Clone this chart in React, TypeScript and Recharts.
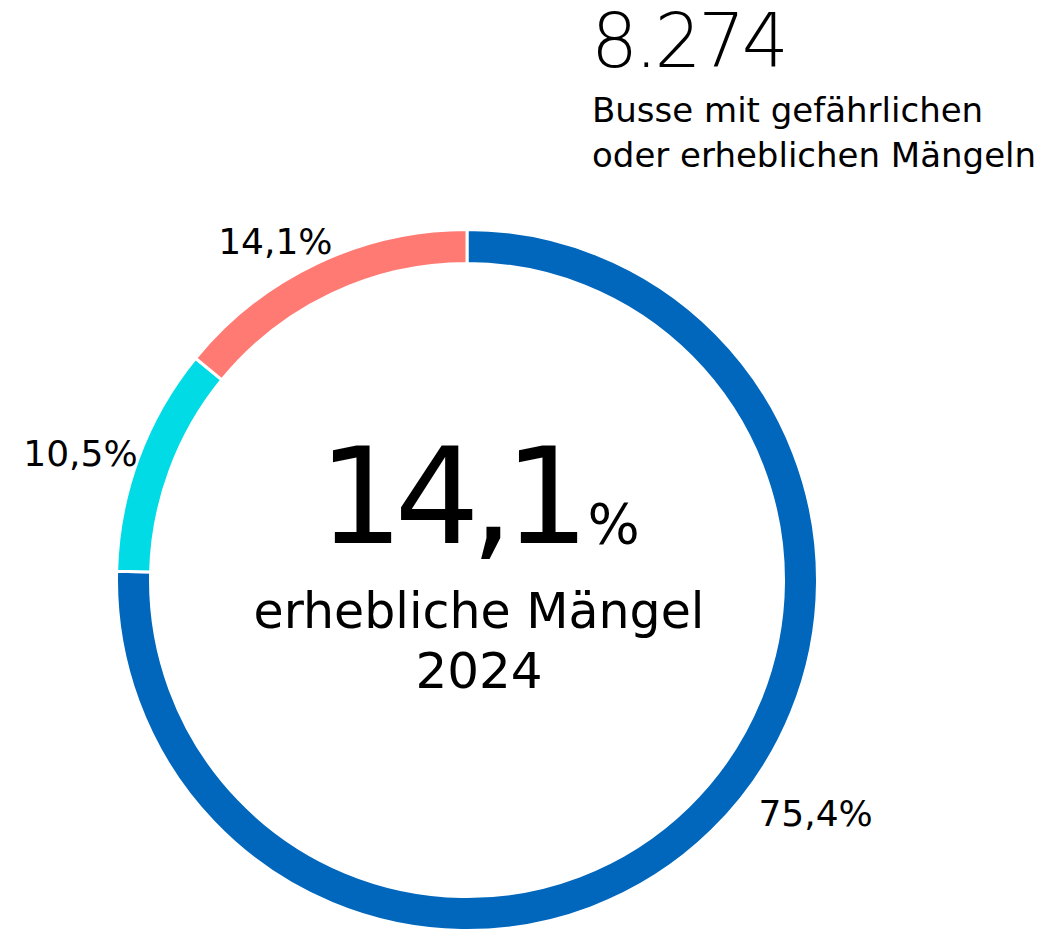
import React from "react";
import { PieChart, Pie, Cell } from "recharts";

const categories = ["Ohne erkennbare Mängel", "Geringe Mängel", "Erhebliche Mängel"];
const shares = [75.4, 10.5, 14.1];
const colors = ["#0067bd", "#00dbe5", "#ff7a73"];

const headlineValue = "8.274";
const headlineLines = ["Busse mit gefährlichen", "oder erheblichen Mängeln"];
const centerValue = "14,1";
const centerLines = ["erhebliche Mängel", "2024"];

const data = categories.map((name, i) => ({ name, value: shares[i] }));

const FONT = "'DejaVu Sans', sans-serif";
const RAD = Math.PI / 180;
const CX = 467;
const CY = 580;

// label nudges relative to the mid-angle point (layout config)
const labelNudges = [
  { dx: 69, dy: -41 },
  { dx: -11, dy: 25 },
  { dx: -20, dy: 36 },
];

const fmt = (v: number) => v.toFixed(1).replace(".", ",") + "%";

const renderLabel = (props: any) => {
  const { cx, cy, midAngle, outerRadius, index, value } = props;
  const r = outerRadius + 50;
  const x = cx + r * Math.cos(-midAngle * RAD) + labelNudges[index].dx;
  const y = cy + r * Math.sin(-midAngle * RAD) + labelNudges[index].dy;
  return (
    <text x={x} y={y} textAnchor="middle" fontFamily={FONT} fontSize={36} fill="#000">
      {fmt(value)}
    </text>
  );
};

export default function App() {
  const x = CX + 12;
  return (
    <div style={{ position: "absolute", left: 0, top: 0, width: 1058, height: 932, background: "#fff" }}>
      <PieChart width={1058} height={932} margin={{ top: 0, right: 0, bottom: 0, left: 0 }}>
        <Pie
          data={data}
          dataKey="value"
          nameKey="name"
          cx={CX}
          cy={CY}
          startAngle={90}
          endAngle={-270}
          innerRadius={316.5}
          outerRadius={350.5}
          stroke="#ffffff"
          strokeWidth={3}
          label={renderLabel}
          labelLine={false}
          isAnimationActive={false}
        >
          {data.map((d, i) => (
            <Cell key={d.name} fill={colors[i]} />
          ))}
        </Pie>
      </PieChart>
      <svg
        width={1058}
        height={932}
        style={{ position: "absolute", left: 0, top: 0, pointerEvents: "none" }}
      >
        <text x={591} y={67} fontFamily={FONT} fontSize={74} fontWeight={200} letterSpacing={-3.5} fill="#000">
          {headlineValue}
        </text>
        {headlineLines.map((t, i) => (
          <text key={t} x={592} y={122 + i * 45} fontFamily={FONT} fontSize={34} fill="#000">
            {t}
          </text>
        ))}
        <text x={x} y={CY - 37} textAnchor="middle" fontFamily={FONT} fill="#000">
          <tspan fontSize={134} letterSpacing={-9}>{centerValue}</tspan>
          <tspan fontSize={55} dx={7}>%</tspan>
        </text>
        <text x={x} y={CY + 48} textAnchor="middle" fontFamily={FONT} fontSize={49} fill="#000">
          {centerLines[0]}
        </text>
        <text x={x} y={CY + 108} textAnchor="middle" fontFamily={FONT} fontSize={50} fill="#000">
          {centerLines[1]}
        </text>
      </svg>
    </div>
  );
}
